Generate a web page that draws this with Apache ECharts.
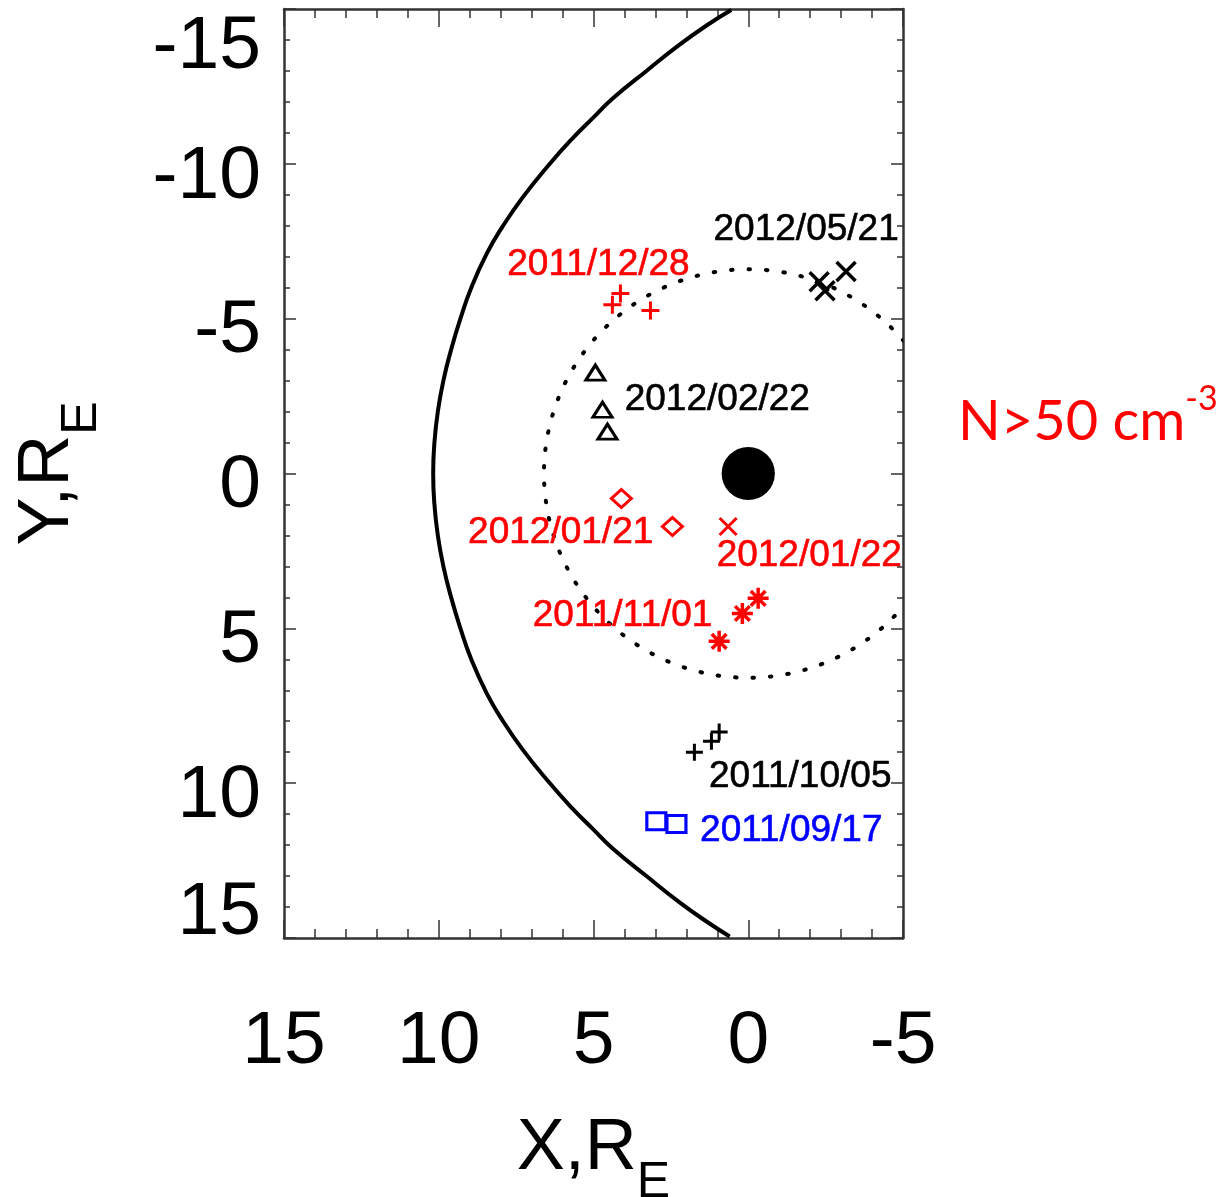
<!DOCTYPE html>
<html>
<head>
<meta charset="utf-8">
<script src="https://cdn.jsdelivr.net/npm/echarts@6/dist/echarts.min.js"></script>
<style>
html,body{margin:0;padding:0;background:#fff;overflow:hidden;}
#chart{width:1226px;height:1197px;}
</style>
</head>
<body>
<div id="chart"></div>
<script>
// ---------- data (X, Y in Earth radii, GSM) ----------
const xTicks = [15, 10, 5, 0, -5];
const xTickLabels = ['15', '10', '5', '0', '-5'];
const yTicks = [-15, -10, -5, 0, 5, 10, 15];
const yTickLabels = ['-15', '-10', '-5', '0', '5', '10', '15'];

// magnetopause (from Y=-15 to Y=+15)
const magnetopause = [
  [0.55, -14.97], [1.30, -14.50], [2.23, -13.84], [3.29, -13.00], [4.39, -12.10],
  [5.00, -11.50], [5.70, -10.80], [6.50, -9.90], [7.30, -8.90], [7.94, -7.97],
  [8.45, -7.10], [8.95, -6.00], [9.30, -5.00], [9.60, -4.00], [9.85, -3.00],
  [10.03, -2.00], [10.14, -1.00], [10.18, 0.00], [10.14, 1.00], [10.03, 2.00],
  [9.85, 3.00], [9.60, 4.00], [9.30, 5.00], [8.95, 6.00], [8.45, 7.10],
  [7.94, 7.97], [7.30, 8.90], [6.50, 9.90], [5.70, 10.80], [5.00, 11.50],
  [4.39, 12.10], [3.29, 13.00], [2.23, 13.84], [1.30, 14.50], [0.60, 14.95]
];
// dotted reference circle [X, Y, radius] and Earth disc [X, Y, radius]
const orbitCircle = [[0, 0, 6.6]];
const earthDisc = [[0, 0, 0.86]];

// event positions
const ev20110917 = [[2.97, 11.23], [2.32, 11.32]];              // blue squares
const ev20111005 = [[1.74, 9.0], [1.19, 8.65], [0.94, 8.35]];   // black plus
const ev20111101 = [[-0.32, 4.03], [0.19, 4.52], [0.94, 5.42]]; // red asterisk
const ev20111228 = [[4.13, -5.81], [4.39, -5.45], [3.16, -5.26]]; // red plus
const ev20120121 = [[4.10, 0.81], [2.45, 1.71]];                // red diamond
const ev20120122 = [[0.65, 1.71]];                              // red x
const ev20120222 = [[4.94, -3.26], [4.71, -2.06], [4.55, -1.35]]; // black triangle
const ev20120521 = [[-2.29, -6.19], [-2.48, -5.90], [-3.16, -6.52]]; // black x

// event labels and where their text is centred
const labelNames = ['2012/05/21', '2011/12/28', '2012/02/22', '2012/01/21',
                    '2012/01/22', '2011/11/01', '2011/10/05', '2011/09/17'];
const labelAnchors = [[-1.87, -7.87], [4.84, -6.74], [1.0, -2.39], [6.06, 1.90],
                      [-1.97, 2.65], [4.06, 4.61], [-1.68, 9.81], [-1.39, 11.55]];
const labelColors = ['#000000', '#ff0000', '#000000', '#ff0000',
                     '#ff0000', '#ff0000', '#000000', '#0000ff'];

const annotation = 'N>50 cm';
const annotationSup = '-3';

// ---------- styling ----------
const RED = '#ff0000', BLUE = '#0000ff', BLACK = '#000000';
const FONT = 'Liberation Sans';
const PLUS = 'path://M0 5 L10 5 M5 0 L5 10';
const CROSS = 'path://M0 0 L10 10 M10 0 L0 10';
const STAR = 'path://M0 5 L10 5 M5 0 L5 10 M1.5 1.5 L8.5 8.5 M8.5 1.5 L1.5 8.5';

function markerSeries(name, data, symbol, size, color, width) {
  return {
    name: name, type: 'scatter', data: data, symbol: symbol, symbolSize: size,
    itemStyle: { color: 'none', borderColor: color, borderWidth: width, opacity: 1 },
    emphasis: { disabled: true }, z: 5, silent: true
  };
}

function circleSeries(data, fill, stroke, lineWidth, dash) {
  return {
    type: 'custom', data: data, clip: true, silent: true, z: 3,
    renderItem: function (params, api) {
      const c = api.coord([api.value(0), api.value(1)]);
      const r = api.size([api.value(2), 0])[0];
      const cs = params.coordSys;
      return {
        type: 'group',
        children: [{
          type: 'circle',
          shape: { cx: c[0], cy: c[1], r: r },
          style: { fill: fill, stroke: stroke, lineWidth: lineWidth, lineDash: dash, lineCap: 'round' }
        }],
        clipPath: { type: 'rect', shape: { x: cs.x, y: cs.y, width: cs.width, height: cs.height } }
      };
    }
  };
}

const axisLineStyle = { color: '#333', width: 2.5 };
const subRich = {
  n: { fontFamily: FONT, fontSize: 72, color: '#000', lineHeight: 75, verticalAlign: 'top' },
  s: { fontFamily: FONT, fontSize: 50, color: '#000', lineHeight: 50, padding: [45, 0, 0, 0], verticalAlign: 'top' }
};

const option = {
  backgroundColor: '#ffffff',
  animation: false,
  grid: { left: 284, top: 9, right: 323, bottom: 259, containLabel: false, outerBoundsMode: 'none' },
  xAxis: [{
    type: 'value', min: -5, max: 15, interval: 5, inverse: true, position: 'bottom',
    axisLine: { show: true, onZero: false, lineStyle: axisLineStyle },
    axisTick: { show: true, inside: true, length: 18, lineStyle: { color: '#333', width: 1.5 } },
    minorTick: { show: true, splitNumber: 5, length: 9, lineStyle: { color: '#333', width: 1.5 } },
    splitLine: { show: false }, minorSplitLine: { show: false },
    axisLabel: {
      margin: 67, color: '#000', fontFamily: FONT, fontSize: 75,
      formatter: v => xTickLabels[xTicks.indexOf(v)]
    },
    name: '{n|X,R}{s|E}', nameLocation: 'middle', nameGap: 175,
    nameTextStyle: { rich: subRich }
  }, {
    type: 'value', min: -5, max: 15, interval: 5, inverse: true, position: 'top',
    axisLine: { show: true, onZero: false, lineStyle: axisLineStyle },
    axisTick: { show: true, inside: true, length: 18, lineStyle: { color: '#333', width: 1.5 } },
    minorTick: { show: true, splitNumber: 5, length: 9, lineStyle: { color: '#333', width: 1.5 } },
    splitLine: { show: false }, axisLabel: { show: false }
  }],
  yAxis: [{
    type: 'value', min: -15, max: 15, interval: 5, inverse: true, position: 'left',
    axisLine: { show: true, onZero: false, lineStyle: axisLineStyle },
    axisTick: { show: true, inside: true, length: 12, lineStyle: { color: '#333', width: 1.5 } },
    minorTick: { show: true, splitNumber: 5, length: 6, lineStyle: { color: '#333', width: 1.5 } },
    splitLine: { show: false }, minorSplitLine: { show: false },
    axisLabel: {
      margin: 23, color: '#000', fontFamily: FONT, fontSize: 75,
      formatter: function (v) {
        const t = yTickLabels[yTicks.indexOf(v)];
        if (v === yTicks[0]) return '{top|' + t + '}';
        if (v === yTicks[yTicks.length - 1]) return '{bot|' + t + '}';
        return '{mid|' + t + '}';
      },
      rich: {
        top: { fontFamily: FONT, fontSize: 75, color: '#000', padding: [76, 0, 0, 0] },
        mid: { fontFamily: FONT, fontSize: 75, color: '#000', padding: [26, 0, 0, 0] },
        bot: { fontFamily: FONT, fontSize: 75, color: '#000', padding: [0, 0, 50, 0] }
      }
    },
    name: '{n|Y,R}{s|E}', nameLocation: 'middle', nameGap: 197, nameRotate: 90,
    nameTextStyle: { rich: subRich }
  }, {
    type: 'value', min: -15, max: 15, interval: 5, inverse: true, position: 'right',
    axisLine: { show: true, onZero: false, lineStyle: axisLineStyle },
    axisTick: { show: true, inside: true, length: 12, lineStyle: { color: '#333', width: 1.5 } },
    minorTick: { show: true, splitNumber: 5, length: 6, lineStyle: { color: '#333', width: 1.5 } },
    splitLine: { show: false }, axisLabel: { show: false }
  }],
  series: [
    {
      name: 'magnetopause', type: 'line', data: magnetopause, smooth: 0.5,
      showSymbol: false, symbol: 'none', clip: true, silent: true, z: 4,
      lineStyle: { color: BLACK, width: 4 }
    },
    circleSeries(orbitCircle, 'none', BLACK, 4, [1.5, 16]),
    circleSeries(earthDisc, BLACK, 'none', 0, null),
    markerSeries('2011/09/17', ev20110917, 'rect', [19, 17], BLUE, 3),
    markerSeries('2011/10/05', ev20111005, PLUS, 17, BLACK, 3),
    markerSeries('2011/11/01', ev20111101, STAR, 21, RED, 3.5),
    markerSeries('2011/12/28', ev20111228, PLUS, 18, RED, 3),
    markerSeries('2012/01/21', ev20120121, 'diamond', [20, 18], RED, 3),
    markerSeries('2012/01/22', ev20120122, CROSS, 17, RED, 3),
    markerSeries('2012/02/22', ev20120222, 'triangle', [19, 15], BLACK, 3),
    markerSeries('2012/05/21', ev20120521, CROSS, 19, BLACK, 3.5),
    {
      name: 'labels', type: 'scatter', symbol: 'circle', symbolSize: 1,
      itemStyle: { color: 'rgba(0,0,0,0)' }, silent: true, z: 6,
      data: labelNames.map((n, i) => ({
        name: n, value: labelAnchors[i],
        label: { color: labelColors[i], textBorderColor: labelColors[i] }
      })),
      label: {
        show: true, position: 'inside', formatter: '{b}', opacity: 1,
        fontFamily: FONT, fontSize: 37, color: '#000',
        textBorderWidth: 0.6, textShadowBlur: 0
      }
    }
  ],
  graphic: [{
    type: 'text', left: 958, top: 382, silent: true,
    style: {
      text: '{a|' + annotation + '}{b|' + annotationSup + '}',
      rich: {
        a: { fontFamily: 'Lato', fontSize: 56, fill: RED, color: RED, verticalAlign: 'bottom', lineHeight: 68 },
        b: { fontFamily: 'Lato', fontSize: 34, fill: RED, color: RED, verticalAlign: 'top', lineHeight: 68 }
      }
    }
  }]
};

const chart = echarts.init(document.getElementById('chart'), null, { renderer: 'canvas' });
chart.setOption(option);
</script>
</body>
</html>
